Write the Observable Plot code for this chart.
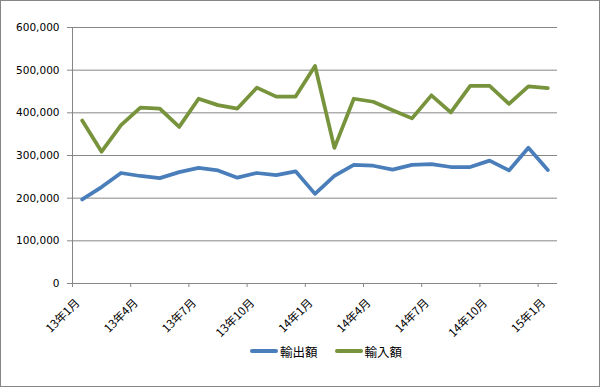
<!DOCTYPE html>
<html><head><meta charset="utf-8">
<script src="https://cdn.jsdelivr.net/npm/d3@7"></script>
<script src="https://cdn.jsdelivr.net/npm/@observablehq/plot@0.6"></script>
<style>
body{margin:0;background:#fff;}
#wrap{position:relative;width:600px;height:387px;overflow:hidden;background:#fff;font-family:"DejaVu Sans","Noto Sans CJK JP",sans-serif;}
#frame{position:absolute;left:0;top:0;width:600px;height:387px;box-sizing:border-box;border:1px solid #868686;pointer-events:none;}
#chart{position:absolute;left:0;top:0;}
#legend{position:absolute;left:250px;top:342px;height:18px;display:flex;align-items:center;font-family:"Noto Sans CJK JP",sans-serif;font-size:12.5px;color:#000;}
.item{display:flex;align-items:center;margin-right:17px;}
.sw{width:28px;height:4px;border-radius:2px;margin-right:2px;}
</style></head>
<body>
<div id="wrap"><div id="chart"></div><div id="legend"></div><div id="frame"></div></div>
<script>
const months = ["13年1月","13年2月","13年3月","13年4月","13年5月","13年6月","13年7月","13年8月","13年9月","13年10月","13年11月","13年12月",
"14年1月","14年2月","14年3月","14年4月","14年5月","14年6月","14年7月","14年8月","14年9月","14年10月","14年11月","14年12月","15年1月"];
const exportsVals = [197000,226000,259000,252000,247000,261000,271000,265000,248000,259000,254000,263000,
210000,252000,278000,276000,267000,278000,280000,273000,273000,288000,265000,318000,266000];
const importsVals = [382000,309000,371000,412000,410000,367000,433000,418000,410000,459000,438000,438000,
510000,318000,433000,426000,406000,387000,441000,401000,463000,463000,421000,462000,458000];
const seriesNames = ["輸出額","輸入額"];
const seriesColors = ["#4a7ebb","#77933c"];
const yTicks = [0,100000,200000,300000,400000,500000,600000];
const xTickIdx = [0,3,6,9,12,15,18,21,24];

const data = months.flatMap((m,i)=>[
  {i, m, v: exportsVals[i], s: seriesNames[0]},
  {i, m, v: importsVals[i], s: seriesNames[1]}
]);
const grey = "#868686";
const plot = Plot.plot({
  width:600, height:342,
  marginTop:27, marginBottom:59, marginLeft:72, marginRight:43,
  style:{background:"transparent", fontFamily:"'DejaVu Sans','Noto Sans CJK JP',sans-serif", fontSize:"10.5px", color:"#000"},
  x:{type:"linear", domain:[-0.5,24.5], axis:null},
  y:{domain:[0,600000], axis:null},
  color:{domain:seriesNames, range:seriesColors},
  marks:[
    Plot.ruleY(yTicks, {y:d=>d, x1:-0.5, x2:24.5, stroke:grey, strokeWidth:1}),
    Plot.ruleX([-0.5], {x:d=>d, y1:0, y2:600000, stroke:grey}),
    Plot.axisY({ticks:yTicks, tickSize:5, text:null, stroke:grey, label:null}),
    Plot.axisY({ticks:yTicks, tickSize:0, tickPadding:13, tickFormat:d3.format(","), fill:"#000", label:null, fontSize:10.5}),
    Plot.axisX({ticks:xTickIdx.map(d=>d-0.5), tickSize:4, text:null, stroke:grey, label:null}),
    Plot.text(xTickIdx, {x:d=>d-0.5, text:d=>months[d], frameAnchor:"bottom", rotate:-45, textAnchor:"end", dx:8, dy:20, fontSize:11.5, fontFamily:"'Noto Sans CJK JP',sans-serif", fill:"#000"}),
    Plot.line(data, {x:"i", y:"v", z:"s", stroke:"s", strokeWidth:3.75, strokeLinejoin:"round", strokeLinecap:"round"})
  ]
});
document.getElementById("chart").appendChild(plot);
const lg = document.getElementById("legend");
seriesNames.forEach((n,k)=>{
  const it = document.createElement("div"); it.className="item";
  const sw = document.createElement("div"); sw.className="sw"; sw.style.background = seriesColors[k];
  const tx = document.createElement("span"); tx.textContent = n;
  it.appendChild(sw); it.appendChild(tx); lg.appendChild(it);
});
</script>
</body></html>
